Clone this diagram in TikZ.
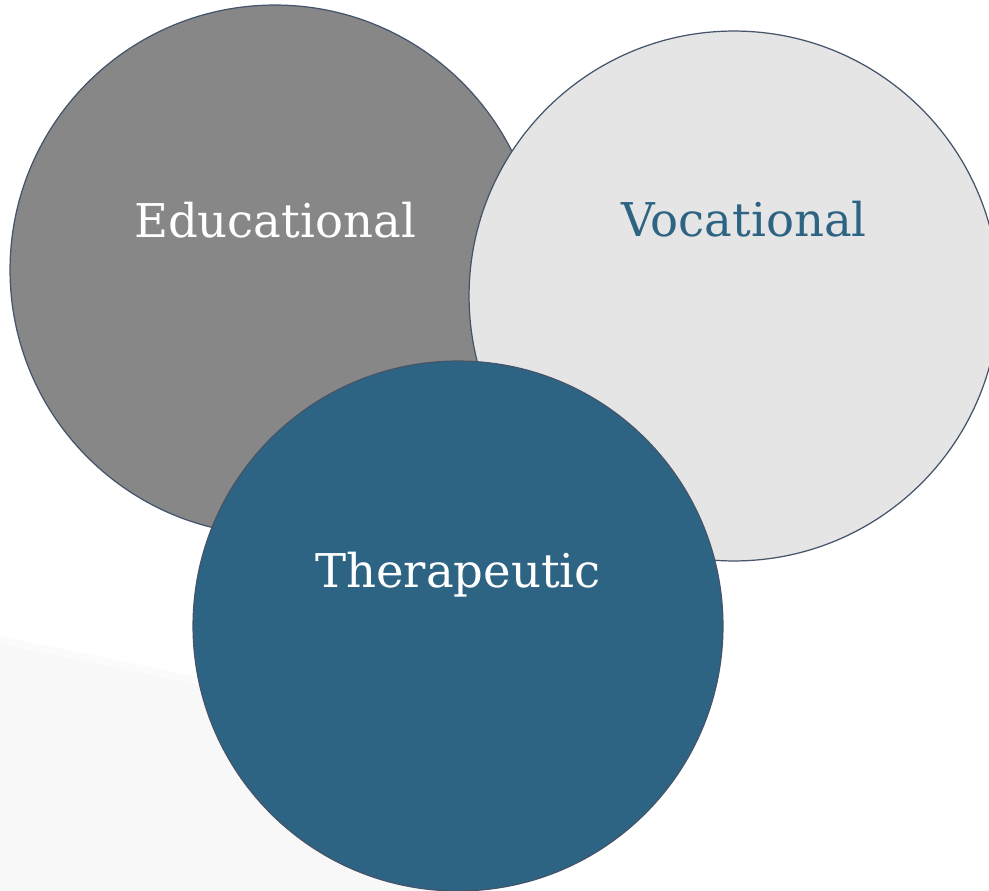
\documentclass[tikz,border=0pt]{standalone}
\usepackage{fontspec}
\setmainfont{DejaVu Serif}
\usepackage{tikz}
\usetikzlibrary{positioning}
\definecolor{edugray}{HTML}{878787}
\definecolor{vocgray}{HTML}{E5E5E5}
\definecolor{thrblue}{HTML}{2E6483}
\definecolor{rimblue}{HTML}{44546A}
\definecolor{shadegray}{HTML}{F8F8F9}

\begin{document}
\begin{tikzpicture}[x=0.02cm,y=-0.02cm,
  bubble/.style={circle,draw=rimblue,line width=0.7pt,minimum size=10.6cm,inner sep=0pt},
  word/.style={anchor=base,font=\fontsize{26.5}{30}\selectfont}]
\clip (0,0) rectangle (989,891);
\fill[white] (0,0) rectangle (989,891);
% faint backdrop, soft top edge
\fill[shadegray!50] (0,636) -- (460,731) -- (460,891) -- (0,891) -- cycle;
\fill[shadegray] (0,644) -- (460,739) -- (460,891) -- (0,891) -- cycle;
% the three circles
\node[bubble,fill=edugray] (edu) at (275,270) {};
\node[bubble,fill=vocgray] (voc) at (734,296) {};
\node[bubble,fill=thrblue] (thr) at (458,626) {};
% labels
\node[word,text=white] (edulbl) at (275,238) {Educational};
\node[word,text=thrblue] (voclbl) at (744,237) {Vocational};
\node[word,text=white] (thrlbl) at (458,587) {Therapeutic};
\end{tikzpicture}
\end{document}
